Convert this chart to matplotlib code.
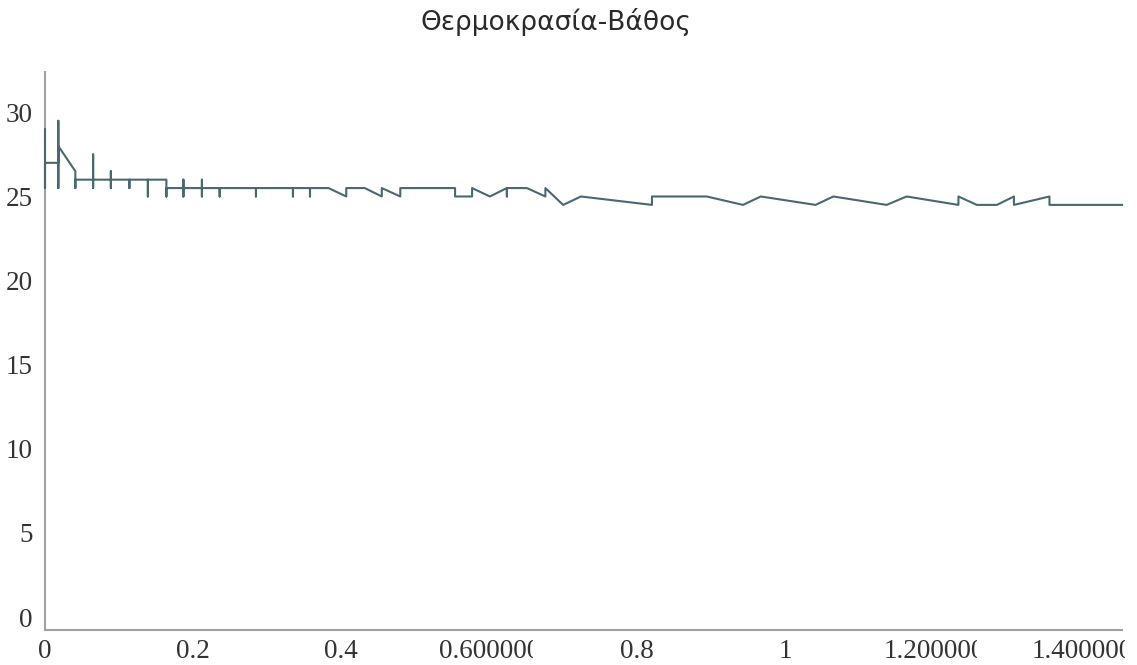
import matplotlib
matplotlib.use("Agg")
import matplotlib.pyplot as plt
from matplotlib.transforms import Bbox, blended_transform_factory, offset_copy

# ---- data (depth vs temperature) ----
depth = [0.0, 0.0, 0.0, 0.0, 0.018, 0.018, 0.018, 0.018,
         0.041, 0.041, 0.041,
         0.065, 0.065, 0.065, 0.065,
         0.089, 0.089, 0.089, 0.089,
         0.114, 0.114, 0.114,
         0.139, 0.139, 0.139,
         0.164, 0.164, 0.164,
         0.187, 0.187, 0.187, 0.187,
         0.212, 0.212, 0.212, 0.212,
         0.236, 0.236, 0.236,
         0.285, 0.285, 0.285,
         0.335, 0.335, 0.335,
         0.358, 0.358, 0.358,
         0.383, 0.407, 0.407, 0.432, 0.455, 0.455, 0.480, 0.480,
         0.554, 0.554, 0.577, 0.577, 0.601, 0.624, 0.624, 0.624,
         0.651, 0.676, 0.676, 0.700, 0.724, 0.820, 0.820, 0.894,
         0.943, 0.967, 1.041, 1.065, 1.137, 1.164, 1.234, 1.234,
         1.259, 1.286, 1.309, 1.309, 1.357, 1.357, 1.405, 1.455]
temperature = [29.0, 25.5, 27.0, 27.0, 27.0, 29.5, 25.5, 28.0,
               26.5, 25.5, 26.0,
               26.0, 27.5, 25.5, 26.0,
               26.0, 26.5, 25.5, 26.0,
               26.0, 25.5, 26.0,
               26.0, 25.0, 26.0,
               26.0, 25.0, 25.5,
               25.5, 26.0, 25.0, 25.5,
               25.5, 26.0, 25.0, 25.5,
               25.5, 25.0, 25.5,
               25.5, 25.0, 25.5,
               25.5, 25.0, 25.5,
               25.5, 25.0, 25.5,
               25.5, 25.0, 25.5, 25.5, 25.0, 25.5, 25.0, 25.5,
               25.5, 25.0, 25.0, 25.5, 25.0, 25.5, 25.0, 25.5,
               25.5, 25.0, 25.5, 24.5, 25.0, 24.5, 25.0, 25.0,
               24.5, 25.0, 24.5, 25.0, 24.5, 25.0, 24.5, 25.0,
               24.5, 24.5, 25.0, 24.5, 25.0, 24.5, 24.5, 24.5]

title = "Θερμοκρασία-Βάθος"
xticks = [0, 0.2, 0.4, 0.6, 0.8, 1.0, 1.2, 1.4]
# long float labels appear truncated to a fixed width in the original
xtick_labels = ["0", "0.2", "0.4", "0.600000", "0.8", "1",
                "1.200000", "1.400000"]
yticks = [0, 5, 10, 15, 20, 25, 30]
ytick_labels = ["0", "5", "10", "15", "20", "25", "30"]

W, H, DPI = 1137, 665, 100
fig = plt.figure(figsize=(W / DPI, H / DPI), dpi=DPI)
ax = fig.add_axes([45 / W, (H - 630) / H, (1122 - 45) / W, (630 - 72) / H])

line_color = "#4a6870"
ax.plot(depth, temperature, color=line_color, lw=1.5, clip_on=False, zorder=5)

ax.set_xlim(0, 1.455)
ax.set_ylim(-0.77, 32.4)

for s in ("top", "right"):
    ax.spines[s].set_visible(False)
for s in ("left", "bottom"):
    ax.spines[s].set_color("#a0a0a0")
    ax.spines[s].set_linewidth(1.5)

serif = "Liberation Serif"
fs = 19.5
ax.set_yticks(yticks)
ax.set_yticklabels(ytick_labels, fontfamily=serif, fontsize=fs, color="#333333")
ax.tick_params(axis="y", length=0, pad=9)
ax.set_xticks([])

trans = blended_transform_factory(ax.transData, fig.transFigure)
half_w = 50  # px
ylab = 13 / H
for t, lab in zip(xticks, xtick_labels):
    cx = ax.transData.transform((t, 0))[0]
    if len(lab) > 6:
        tr = offset_copy(trans, fig=fig, x=-half_w * 72 / DPI, y=0, units="points")
        txt = ax.text(t, ylab, lab, transform=tr, ha="left", va="center",
                      fontfamily=serif, fontsize=fs, color="#333333", clip_on=True)
        txt.set_clip_box(Bbox([[cx - half_w, 0], [cx + half_w - 6, H]]))
    else:
        ax.text(t, ylab, lab, transform=trans, ha="center", va="center",
                fontfamily=serif, fontsize=fs, color="#333333", clip_on=False)

fig.text(556 / W, 1 - 22 / H, title, ha="center", va="center",
         fontfamily="DejaVu Sans", fontsize=19, color="#2a2a2a")

fig.savefig("out.png", dpi=DPI)
